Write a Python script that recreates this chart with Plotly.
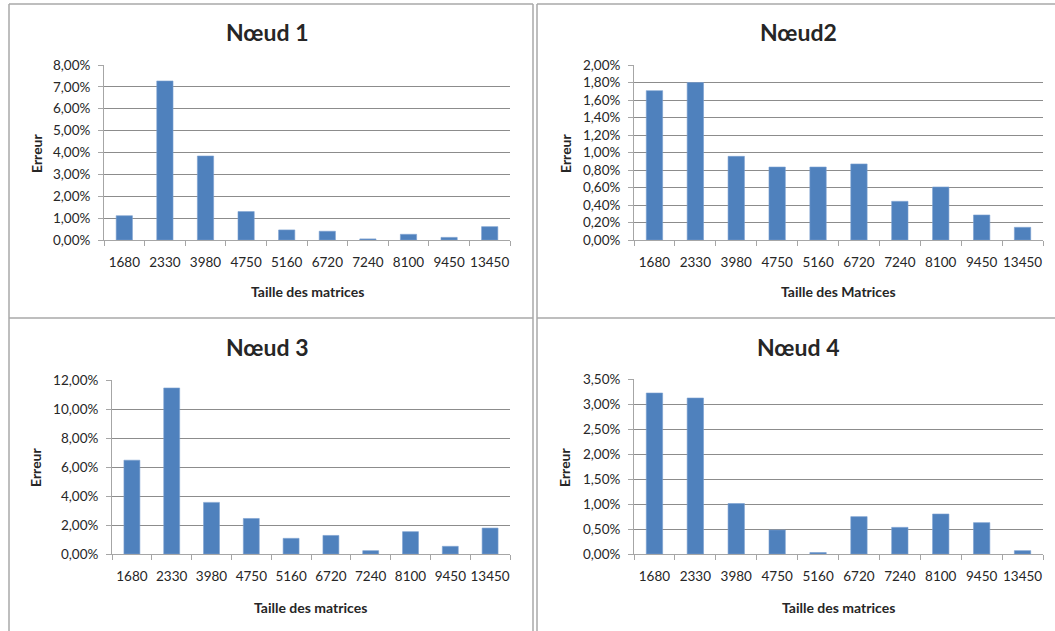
import plotly.graph_objects as go

W, H = 1055, 631

categories = ["1680", "2330", "3980", "4750", "5160", "6720", "7240", "8100", "9450", "13450"]

noeud1 = [0.0111, 0.0727, 0.0384, 0.0130, 0.0046, 0.0040, 0.0005, 0.0026, 0.0012, 0.0061]
noeud2 = [0.01707, 0.0180, 0.00956, 0.00834, 0.00834, 0.00869, 0.00442, 0.00606, 0.00286, 0.00145]
noeud3 = [0.0647, 0.1145, 0.0356, 0.0245, 0.0108, 0.0128, 0.0023, 0.0154, 0.0053, 0.0179]
noeud4 = [0.0322, 0.0312, 0.0101, 0.0048, 0.0003, 0.00747, 0.00533, 0.0080, 0.00627, 0.00067]

titles = ["Nœud 1", "Nœud2", "Nœud 3", "Nœud 4"]
xtitles = ["Taille des matrices", "Taille des Matrices", "Taille des matrices", "Taille des matrices"]
ytitle = "Erreur"
ymax = [0.08, 0.02, 0.12, 0.035]
ydtick = [0.01, 0.002, 0.02, 0.005]
series = [noeud1, noeud2, noeud3, noeud4]

# plot areas in pixels: (x0, x1, y0_top, y1_bottom)
areas = [(104, 510, 65, 240), (634, 1043, 65, 240), (112, 510, 380, 554), (634, 1043, 379, 554)]
title_pos = [(267, 32), (798, 32), (267, 347), (798, 347)]
xtitle_pos = [(307, 292), (838, 292), (310, 607), (838, 607)]
ytitle_pos = [(36, 153), (565, 153), (36, 467), (565, 467)]

def px(x):
    return x / W

def py(y):
    return 1 - y / H

FONT = "Lato, 'Open Sans', sans-serif"
TXT = "#262626"
BLUE = "#4F81BD"
GRID = "#8c8c8c"
AXL = "#a6a6a6"
TICK = 13.5

fig = go.Figure()
layout = dict(
    width=W, height=H, margin=dict(l=0, r=0, t=0, b=0, pad=0, autoexpand=False),
    paper_bgcolor="white", plot_bgcolor="white",
    showlegend=False, separators=",.", bargap=0.6,
    font=dict(family=FONT, color=TXT, size=TICK),
)
annotations = []
shapes = []

for i in range(4):
    n = "" if i == 0 else str(i + 1)
    fig.add_trace(go.Bar(x=categories, y=series[i], xaxis="x" + n, yaxis="y" + n,
                         marker=dict(color=BLUE, line=dict(width=0.6, color="#7a9fd0"))))
    x0, x1, y0, y1 = areas[i]
    layout["xaxis" + n] = dict(
        domain=[px(x0), px(x1)], anchor="y" + n, type="category", automargin=False,
        showline=True, linecolor=AXL, linewidth=1, showgrid=False,
        ticks="outside", tickson="boundaries", ticklen=5, tickcolor=AXL,
        tickangle=0, ticklabelstandoff=10, tickfont=dict(size=TICK, color=TXT), fixedrange=True,
    )
    layout["yaxis" + n] = dict(
        domain=[py(y1), py(y0)], anchor="x" + n, range=[0, ymax[i]], dtick=ydtick[i],
        tick0=0, tickformat=".2%", automargin=False, showline=True, linecolor=AXL, linewidth=1,
        showgrid=True, gridcolor=GRID, gridwidth=1, zeroline=False,
        ticks="outside", ticklen=5, tickcolor=AXL, ticklabelstandoff=5,
        tickfont=dict(size=TICK, color=TXT), fixedrange=True,
    )
    tx, ty = title_pos[i]
    annotations.append(dict(text="<b>%s</b>" % titles[i], x=px(tx), y=py(ty), xref="paper", yref="paper",
                            showarrow=False, xanchor="center", yanchor="middle",
                            font=dict(size=23, color=TXT, family=FONT)))
    ax, ay = xtitle_pos[i]
    annotations.append(dict(text="<b>%s</b>" % xtitles[i], x=px(ax), y=py(ay), xref="paper", yref="paper",
                            showarrow=False, xanchor="center", yanchor="middle",
                            font=dict(size=14, color=TXT, family=FONT)))
    yx, yy = ytitle_pos[i]
    annotations.append(dict(text="<b>%s</b>" % ytitle, x=px(yx), y=py(yy), xref="paper", yref="paper",
                            showarrow=False, xanchor="center", yanchor="middle", textangle=-90,
                            font=dict(size=14, color=TXT, family=FONT)))

BORDER = "#a8a8a8"
def line(xa, ya, xb, yb):
    shapes.append(dict(type="line", xref="paper", yref="paper",
                       x0=px(xa), y0=py(ya), x1=px(xb), y1=py(yb),
                       line=dict(color=BORDER, width=1.5)))

line(9, 4, 9, H)
line(533, 4, 533, H)
line(537, 4, 537, H)
line(9, 4, 533, 4)
line(537, 4, W, 4)
line(9, 318, 533, 318)
line(537, 318, W, 318)

layout["annotations"] = annotations
layout["shapes"] = shapes
fig.update_layout(**layout)

post = (
    "document.documentElement.style.margin='0';"
    "document.documentElement.style.overflow='hidden';"
    "document.body.style.margin='0';document.body.style.padding='0';"
    "document.body.style.overflow='hidden';"
    "var d=document.getElementById('{plot_id}');"
    "d.style.position='fixed';d.style.left='0px';d.style.top='0px';"
)
fig.write_html("out.html", config={"displayModeBar": False}, post_script=post)
